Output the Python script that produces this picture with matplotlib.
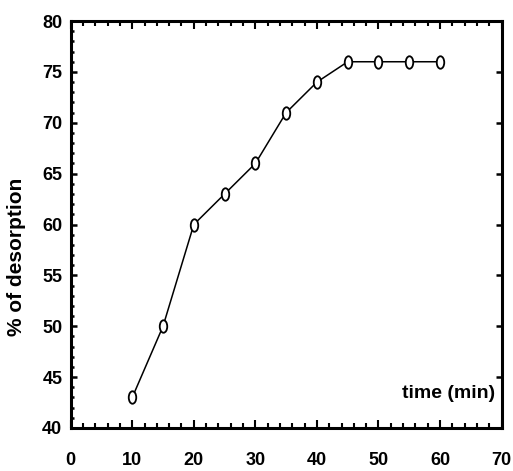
import matplotlib
matplotlib.use("Agg")
import matplotlib.pyplot as plt
from matplotlib.ticker import MultipleLocator
from matplotlib.path import Path
from matplotlib.transforms import Affine2D

time_min = [10, 15, 20, 25, 30, 35, 40, 45, 50, 55, 60]
desorption = [43, 50, 60, 63, 66, 71, 74, 76, 76, 76, 76]
x_ticks = [0, 10, 20, 30, 40, 50, 60, 70]
y_ticks = [40, 45, 50, 55, 60, 65, 70, 75, 80]

plt.rcParams['font.family'] = ['Liberation Sans', 'DejaVu Sans']

fig = plt.figure(figsize=(5.13, 4.71), dpi=100)
ax = fig.add_axes([0.1378, 0.0913, 0.840, 0.864])

ellipse = Path.unit_circle().transformed(Affine2D().scale(0.6, 1.0))
ax.plot(time_min, desorption, color='black', lw=1.1, marker=ellipse, ms=9,
        mfc='white', mec='black', mew=1.3)

ax.set_xlim(0, 70)
ax.set_ylim(40, 80)
ax.set_xticks(x_ticks)
ax.set_yticks(y_ticks)
ax.xaxis.set_minor_locator(MultipleLocator(2))
ax.yaxis.set_minor_locator(MultipleLocator(1))

for s in ax.spines.values():
    s.set_linewidth(2.2)

ax.tick_params(which='both', direction='in', top=True, right=True, color='black')
ax.tick_params(axis='x', which='major', length=6, width=1.5, pad=17, labelsize=13)
ax.tick_params(axis='x', which='minor', length=3.5, width=1.5)
ax.tick_params(axis='y', which='major', length=4, width=1.8, pad=6, labelsize=13)
ax.tick_params(axis='y', which='minor', length=2.5, width=1.8, right=False)
for lab in ax.get_xticklabels() + ax.get_yticklabels():
    lab.set_fontweight('bold')

fig.text(0.032, 0.455, '% of desorption', rotation=90, ha='center', va='center',
         fontsize=15, fontweight='bold')
ax.text(0.985, 0.085, 'time (min)', transform=ax.transAxes, ha='right', va='center',
        fontsize=14, fontweight='bold')

fig.savefig('out.png', dpi=100)
